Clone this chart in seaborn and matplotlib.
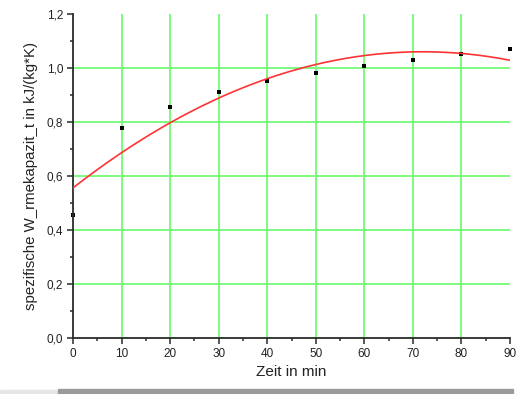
import numpy as np
import pandas as pd
import matplotlib
matplotlib.use("Agg")
import matplotlib.pyplot as plt
from matplotlib.ticker import MultipleLocator, FuncFormatter
from matplotlib.patches import Rectangle
import seaborn as sns

# Measured specific heat capacity over time
zeit_min = [0, 10, 20, 30, 40, 50, 60, 70, 80, 90]
waermekapazitaet = [0.455, 0.778, 0.857, 0.910, 0.952, 0.983, 1.008, 1.030, 1.052, 1.070]

# Quadratic fit coefficients (highest order first)
fit_coeffs = [-0.0000972, 0.0140, 0.556]

x_ticks = [0, 10, 20, 30, 40, 50, 60, 70, 80, 90]
y_ticks = [0.0, 0.2, 0.4, 0.6, 0.8, 1.0, 1.2]

sns.set_style("ticks")
plt.rcParams["font.family"] = ["Liberation Sans", "DejaVu Sans"]

df = pd.DataFrame({"Zeit": zeit_min, "c": waermekapazitaet})
fit_x = np.linspace(0, 90, 300)
fit_df = pd.DataFrame({"Zeit": fit_x, "c": np.polyval(fit_coeffs, fit_x)})

fig = plt.figure(figsize=(5.2, 3.94), dpi=100)
ax = fig.add_axes([73 / 520, 1 - 338 / 394, (510 - 73) / 520, (338 - 14) / 394])

grid_green = "#7dfa7d"
for xv in x_ticks[1:-1]:
    ax.axvline(xv, color=grid_green, lw=1.4, zorder=0)
for yv in y_ticks[1:-1]:
    ax.axhline(yv, color=grid_green, lw=1.4, zorder=0)

sns.lineplot(data=fit_df, x="Zeit", y="c", ax=ax, color="#ff3333", lw=1.2, zorder=3)
sns.scatterplot(data=df, x="Zeit", y="c", ax=ax, color="black", marker="s",
                s=5, linewidth=0, zorder=1.5, clip_on=False)

ax.set_xlim(0, 90)
ax.set_ylim(0, 1.2)
ax.set_xticks(x_ticks)
ax.set_yticks(y_ticks)
ax.xaxis.set_minor_locator(MultipleLocator(5))
ax.yaxis.set_minor_locator(MultipleLocator(0.1))
ax.yaxis.set_major_formatter(FuncFormatter(lambda v, p: f"{v:.1f}".replace(".", ",")))

for side in ("top", "right"):
    ax.spines[side].set_visible(False)
for side in ("left", "bottom"):
    ax.spines[side].set_color("#2b2b2b")
    ax.spines[side].set_linewidth(1.3)
    ax.spines[side].set_zorder(2.5)

ax.tick_params(which="major", direction="out", length=4.5, width=1.1,
               color="#2b2b2b", labelsize=8.5, labelcolor="#222222", pad=2.5)
ax.tick_params(which="minor", direction="out", length=2.2, width=1.1, color="#2b2b2b")

ax.set_xlabel("Zeit in min", fontsize=11, color="#222222", labelpad=4)
ax.set_ylabel("spezifische W_rmekapazit_t in kJ/(kg*K)", fontsize=10.8,
              color="#222222", labelpad=6)

# Shadow bar along the bottom edge of the page
fig.patches.append(Rectangle((0, 1 - 393 / 394), 58 / 520, 3 / 394,
                             transform=fig.transFigure, color="#e6e6e6", zorder=0))
fig.patches.append(Rectangle((58 / 520, 1 - 393 / 394), (513 - 58) / 520, 4 / 394,
                             transform=fig.transFigure, color="#9a9a9a", zorder=0))

fig.savefig("out.png", dpi=100)
